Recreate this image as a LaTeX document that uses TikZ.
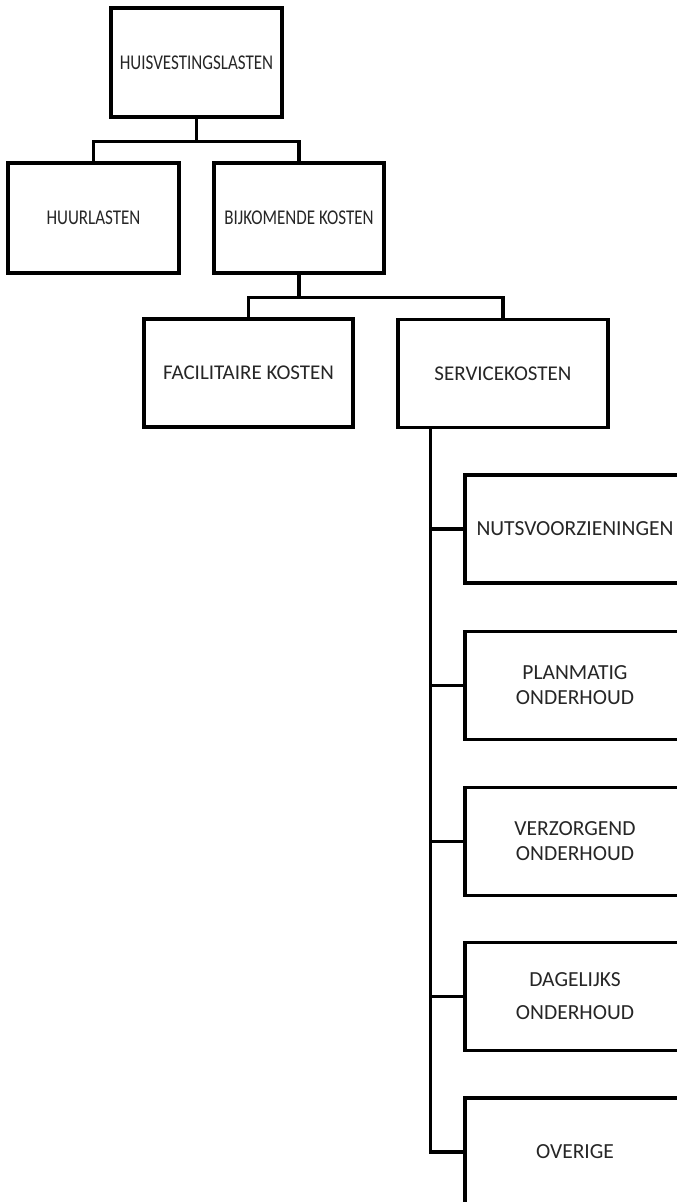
\documentclass[tikz,border=0pt]{standalone}
\usepackage{fontspec}
\setmainfont{Carlito}
\usetikzlibrary{calc}
% condensed label text used in the two upper levels
\newcommand\narrowtxt[1]{\scalebox{0.81}[1]{#1}}
\tikzset{
  box/.style={draw=black, line width=3.3pt, rectangle, fill=white, align=center,
    inner sep=0pt, text=black!85, font=\fontsize{21}{25}\selectfont},
  wide/.style={box, minimum width=171pt, minimum height=110pt},
  mid/.style={box, minimum width=209pt, minimum height=108pt},
  side/.style={box, minimum width=220pt, minimum height=108pt, font=\fontsize{21.5}{25}\selectfont},
  link/.style={line width=3.3pt, draw=black}
}
\begin{document}
\begin{tikzpicture}[x=1pt, y=-1pt]
  \useasboundingbox (0,0) rectangle (677,1202);
  \clip (0,0) rectangle (677,1202);

  % top level
  \node[wide, minimum height=109pt] (top) at (196.5,62.5) {\narrowtxt{HUISVESTINGSLASTEN}};

  % second level
  \node[wide] (huur) at (93.5,218) {\narrowtxt{HUURLASTEN}};
  \node[wide, minimum width=170pt] (bijk) at (299,218) {\narrowtxt{BIJKOMENDE KOSTEN}};

  % third level
  \node[mid] (fac) at (248.5,373) {FACILITAIRE KOSTEN};
  \node[mid, minimum width=210pt] (serv) at (503,373.5) {SERVICEKOSTEN};

  % service cost items
  \node[side] (nuts) at (575,529) {NUTSVOORZIENINGEN};
  \node[side] (plan) at (575,685.5) {PLANMATIG\\ONDERHOUD};
  \node[side] (verz) at (575,841.5) {VERZORGEND\\ONDERHOUD};
  \node[side] (dag)  at (575,996.5) {DAGELIJKS\\[8pt]ONDERHOUD};
  \node[side] (ove)  at (575,1152) {OVERIGE};

  % connectors
  \coordinate (j1) at ($(top.south)+(0,23)$);
  \draw[link] (top.south) -- (j1);
  \draw[link] (huur.north) |- (j1) -| (bijk.north);

  \coordinate (j2) at ($(bijk.south)+(0,23)$);
  \draw[link] (bijk.south) -- (j2);
  \draw[link] (fac.north) |- (j2) -| (serv.north);

  \coordinate (s0) at ($(serv.south west)+(34,0)$);
  \draw[link] (s0) |- (ove.west);
  \foreach \n in {nuts,plan,verz,dag}
    \draw[link] (s0 |- \n.west) -- (\n.west);
\end{tikzpicture}
\end{document}
